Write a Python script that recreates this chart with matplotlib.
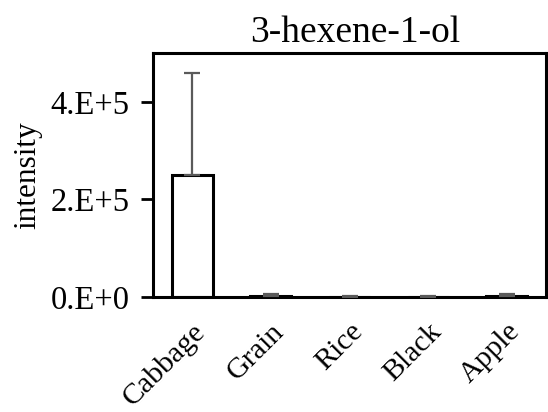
import matplotlib
matplotlib.use("Agg")
import matplotlib.pyplot as plt
from matplotlib.ticker import FixedLocator, FuncFormatter
from matplotlib.transforms import ScaledTranslation

plt.rcParams['font.family'] = ['Liberation Serif', 'DejaVu Serif']

categories = ["Cabbage", "Grain", "Rice", "Black", "Apple"]
intensity = [2.51e5, 3000, 800, 800, 2000]
errors = [2.08e5, 2500, 400, 400, 4500]

fig = plt.figure(figsize=(5.48, 4.12), dpi=100)
ax = fig.add_axes([153/548, 1 - 297/412, (546 - 153)/548, (297 - 53)/412])

x = range(len(categories))
ax.bar(x, intensity, width=0.52, color="white", edgecolor="black", linewidth=2.2, zorder=2)
ax.errorbar(x, intensity, yerr=[[0]*len(errors), errors], fmt="none",
            ecolor="#5a5a5a", elinewidth=1.6, capsize=6, capthick=1.6, zorder=3)

ax.set_xlim(-0.5, len(categories) - 0.5)
ax.set_ylim(0, 5e5)
ax.yaxis.set_major_locator(FixedLocator([0, 2e5, 4e5]))

def sci(v, pos):
    if v == 0:
        return "0.E+0"
    exp = len(str(int(v))) - 1
    return f"{int(v // 10**exp)}.E+{exp}"

ax.yaxis.set_major_formatter(FuncFormatter(sci))
ax.set_xticks(list(x))
ax.set_xticklabels(categories, rotation=45, ha="right", rotation_mode="anchor", fontsize=21.5)
shift = ScaledTranslation(5/100, 0, fig.dpi_scale_trans)
for lbl in ax.get_xticklabels():
    lbl.set_transform(lbl.get_transform() + shift)
ax.tick_params(axis="x", length=0, pad=15.5)
ax.tick_params(axis="y", direction="out", length=9, width=2, labelsize=23.5, pad=8)

for s in ax.spines.values():
    s.set_linewidth(2.2)

ax.set_ylabel("intensity", fontsize=22.5, labelpad=6)
title = ax.set_title("3-hexene-1-ol", fontsize=27, pad=8)
title.set_transform(title.get_transform() + ScaledTranslation(6/100, 0, fig.dpi_scale_trans))

fig.savefig("out.png", dpi=100)
